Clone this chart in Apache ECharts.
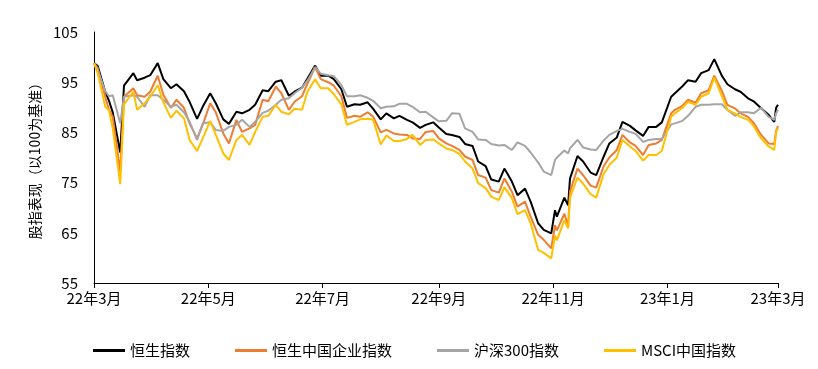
<!DOCTYPE html>
<html>
<head>
<meta charset="utf-8">
<script src="https://cdn.jsdelivr.net/npm/echarts@6/dist/echarts.min.js"></script>
<style>
html,body{margin:0;padding:0;background:#fff;}
#c{width:818px;height:369px;}
</style>
</head>
<body>
<div id="c"></div>
<script>
var seriesNames = ['恒生指数', '恒生中国企业指数', '沪深300指数', 'MSCI中国指数'];
var yAxisName = '股指表现（以100为基准）';
var tickDates = ['2022-03-01','2022-05-01','2022-07-01','2022-09-01','2022-11-01','2023-01-01','2023-03-01'];

var dates = [
'2022-03-01','2022-03-03','2022-03-07','2022-03-09','2022-03-11','2022-03-15','2022-03-17','2022-03-22','2022-03-24','2022-03-28',
'2022-03-31','2022-04-04','2022-04-07','2022-04-11','2022-04-14','2022-04-18','2022-04-21','2022-04-25','2022-04-28','2022-05-02',
'2022-05-05','2022-05-09','2022-05-12','2022-05-16','2022-05-19','2022-05-23','2022-05-26','2022-05-30','2022-06-02','2022-06-06',
'2022-06-09','2022-06-13','2022-06-16','2022-06-20','2022-06-23','2022-06-27','2022-06-30','2022-07-04','2022-07-07','2022-07-11',
'2022-07-14','2022-07-18','2022-07-21','2022-07-25','2022-07-28','2022-08-01','2022-08-04','2022-08-08','2022-08-11','2022-08-15',
'2022-08-18','2022-08-22','2022-08-25','2022-08-29','2022-09-01','2022-09-05','2022-09-08','2022-09-12','2022-09-15','2022-09-19',
'2022-09-22','2022-09-26','2022-09-29','2022-10-03','2022-10-06','2022-10-10','2022-10-13','2022-10-17','2022-10-20','2022-10-24',
'2022-10-27','2022-10-31','2022-11-02','2022-11-03','2022-11-07','2022-11-09','2022-11-10','2022-11-14','2022-11-17','2022-11-21',
'2022-11-24','2022-11-28','2022-12-01','2022-12-05','2022-12-08','2022-12-12','2022-12-15','2022-12-19','2022-12-22','2022-12-26',
'2022-12-29','2023-01-03','2023-01-05','2023-01-09','2023-01-12','2023-01-16','2023-01-19','2023-01-23','2023-01-26','2023-01-30',
'2023-02-02','2023-02-06','2023-02-09','2023-02-13','2023-02-16','2023-02-20','2023-02-24','2023-02-27','2023-02-28','2023-03-01'
];

var hsi = [
98.8,98.2,93.1,91.3,89.0,81.0,94.3,96.8,95.4,95.9,
96.4,98.8,95.6,93.8,94.6,93.2,91.1,87.7,90.1,92.8,
90.8,87.6,86.7,89.1,88.8,89.5,90.5,93.4,93.2,95.1,
95.4,92.3,93.1,93.9,95.8,98.3,96.3,96.3,95.6,93.6,
90.1,90.6,90.5,91.0,89.7,87.6,88.8,87.8,88.3,87.5,
87.0,85.9,86.5,87.0,86.0,84.7,84.5,84.1,82.7,82.3,
79.2,78.3,75.6,75.2,77.8,75.2,72.5,73.8,71.2,66.9,
65.6,64.9,69.5,68.2,72.0,70.5,75.8,80.3,79.2,77.0,
76.5,80.2,82.8,84.0,87.1,86.3,85.4,84.3,86.1,86.1,
87.0,92.1,92.8,94.2,95.4,95.1,96.8,97.4,99.6,96.3,
94.6,93.6,93.1,91.8,91.2,89.8,88.5,87.1,89.9,90.5
];

var hscei = [
98.8,97.8,92.1,89.5,88.1,77.2,92.1,93.8,92.4,92.1,
93.1,96.3,92.5,89.9,91.5,89.9,86.8,83.8,86.5,90.8,
89.0,84.8,82.8,87.5,85.1,85.8,86.5,91.5,91.2,94.1,
92.8,89.5,91.1,92.2,94.8,98.0,95.6,95.0,94.3,92.2,
87.9,88.3,88.1,89.0,88.1,85.0,85.5,84.8,84.6,84.5,
83.8,83.7,85.1,85.3,83.8,82.8,82.3,81.5,80.2,79.5,
76.5,76.0,73.5,73.0,75.8,73.2,70.2,71.2,68.2,64.6,
63.6,61.9,66.5,65.5,68.8,66.2,73.2,77.8,76.5,74.4,
74.0,78.3,80.0,81.5,84.5,83.0,82.3,80.5,82.5,82.8,
83.5,88.8,89.5,90.3,91.5,90.9,92.8,93.4,96.3,93.3,
90.5,89.8,88.8,88.1,86.9,84.5,82.8,82.7,85.3,86.3
];

var csi300 = [
98.8,97.4,93.2,92.2,92.4,86.8,92.1,92.4,92.1,90.1,
92.4,92.4,91.5,90.1,90.5,89.0,87.1,83.5,86.8,87.0,
85.5,85.3,86.1,86.5,87.5,86.1,87.1,88.9,89.3,90.5,
91.5,91.8,92.8,93.9,95.4,98.0,96.7,96.4,96.2,94.4,
92.2,92.2,92.4,91.9,91.3,89.8,90.1,90.2,90.7,90.7,
90.1,89.0,89.1,88.0,87.2,87.3,88.8,88.7,85.8,85.1,
83.6,83.5,82.7,82.4,82.5,81.5,83.0,82.3,81.0,79.0,
77.2,76.5,79.5,80.0,81.4,80.8,81.8,83.5,82.0,81.6,
81.5,83.4,84.5,85.3,85.7,85.1,84.7,83.1,83.5,83.7,
83.7,86.6,86.8,87.3,88.3,90.1,90.5,90.5,90.6,90.6,
89.5,88.3,89.0,89.0,88.8,89.9,88.1,87.5,88.8,89.5
];

var msci = [
98.8,96.8,90.1,89.4,85.8,74.7,90.6,93.1,89.5,90.8,
92.1,94.4,91.0,87.9,89.3,87.8,83.5,81.3,83.8,87.3,
84.5,80.8,79.5,83.5,84.5,82.5,85.1,88.1,88.3,90.5,
89.1,88.6,89.7,89.5,93.2,95.6,93.8,93.8,92.6,90.6,
86.5,87.1,87.6,87.7,87.5,82.6,84.4,83.3,83.3,83.7,
84.5,82.5,83.5,83.6,82.8,81.8,81.5,80.7,79.2,77.8,
74.9,73.9,72.2,71.5,74.1,71.9,68.7,69.5,66.9,61.6,
61.0,59.9,64.5,63.5,67.5,65.9,72.0,76.0,74.8,72.7,
72.0,76.7,78.5,80.0,83.5,82.2,81.3,79.4,80.5,80.5,
81.3,88.1,88.8,89.9,91.1,90.5,92.1,92.8,95.9,92.3,
89.5,88.8,88.1,87.5,86.3,83.8,82.2,81.5,85.0,85.9
];

var colors = ['#000000', '#ED7D31', '#A5A5A5', '#FFC000'];
var valueSets = [hsi, hscei, csi300, msci];

function toTime(s) {
  var p = s.split('-');
  return Date.UTC(+p[0], +p[1] - 1, +p[2]);
}
var tickTimes = tickDates.map(toTime);

var font = '"Noto Sans CJK SC", "Noto Sans", sans-serif';

var chart = echarts.init(document.getElementById('c'), null, {renderer: 'canvas'});
chart.setOption({
  animation: false,
  backgroundColor: '#ffffff',
  grid: {left: 94, right: 40, top: 32, bottom: 86, containLabel: false},
  legend: {
    data: seriesNames.map(function (n) { return {name: n, icon: 'rect'}; }),
    left: 88,
    top: 338,
    itemWidth: 32,
    itemHeight: 3,
    itemGap: 45,
    textStyle: {fontFamily: font, fontSize: 15, color: '#000'}
  },
  xAxis: {
    type: 'value',
    min: tickTimes[0],
    max: tickTimes[tickTimes.length - 1],
    splitLine: {show: false},
    axisLine: {show: true, onZero: false, lineStyle: {color: '#000', width: 1}},
    axisTick: {show: true, customValues: tickTimes, length: 5, lineStyle: {color: '#000'}},
    axisLabel: {
      customValues: tickTimes,
      margin: 8,
      fontFamily: font,
      fontSize: 15,
      color: '#000',
      formatter: function (v) {
        var d = new Date(v);
        return String(d.getUTCFullYear()).slice(2) + '年' + (d.getUTCMonth() + 1) + '月';
      }
    }
  },
  yAxis: {
    type: 'value',
    min: 55,
    max: 105,
    interval: 10,
    name: yAxisName,
    nameLocation: 'middle',
    nameGap: 52,
    nameTextStyle: {fontFamily: font, fontSize: 14, color: '#000'},
    splitLine: {show: false},
    axisLine: {show: true, lineStyle: {color: '#000', width: 1}},
    axisTick: {show: false},
    axisLabel: {margin: 16, fontFamily: font, fontSize: 15, color: '#000'}
  },
  series: seriesNames.map(function (n, i) {
    return {
      name: n,
      type: 'line',
      showSymbol: false,
      symbol: 'none',
      data: dates.map(function (d, k) { return [toTime(d), valueSets[i][k]]; }),
      lineStyle: {color: colors[i], width: 2},
      itemStyle: {color: colors[i]}
    };
  })
});
</script>
</body>
</html>
